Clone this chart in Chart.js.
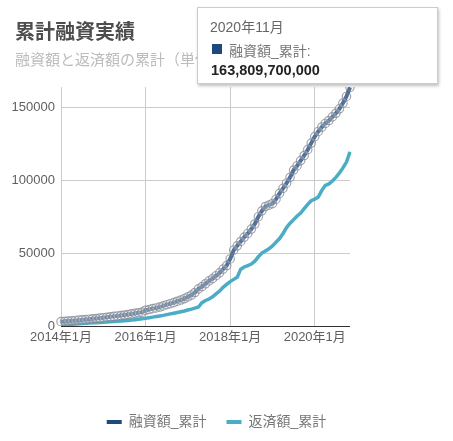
<!DOCTYPE html>
<html lang="ja">
<head>
    <meta charset="UTF-8">
    <title>累計融資実績</title>
    <script src="https://cdn.jsdelivr.net/npm/chart.js"></script>
    <style>
        body { margin: 0; background: #fff; font-family: "Liberation Sans", "Noto Sans CJK JP", sans-serif; }
        #wrap { position: relative; width: 453px; height: 441px; }
        #title { position: absolute; left: 15px; top: 16px; font-size: 20px; font-weight: bold; color: #4d4d4d; }
        #subtitle { position: absolute; left: 15px; top: 48px; font-size: 15px; color: #bcbcbc; white-space: nowrap; }
        #tip { position: absolute; left: 197px; top: 7px; width: 241px; height: 77px; background: #fff;
               border: 1px solid #cccccc; box-shadow: 1px 2px 3px rgba(0,0,0,0.25); box-sizing: border-box; }
        #tip .t { position: absolute; left: 12px; top: 8px; font-size: 14px; color: #666; }
        #tip .sw { position: absolute; left: 14px; top: 36px; width: 10px; height: 10px; background: #1f497d; }
        #tip .n { position: absolute; left: 31px; top: 32px; font-size: 14px; color: #777; }
        #tip .v { position: absolute; left: 13px; top: 54px; font-size: 14.5px; font-weight: bold; color: #222; }
    </style>
</head>
<body>
<div id="wrap">
    <canvas id="myChart" width="453" height="441"></canvas>
    <div id="title">累計融資実績</div>
    <div id="subtitle">融資額と返済額の累計（単位：百万円）</div>
    <div id="tip">
        <div class="t">2020年11月</div>
        <div class="sw"></div>
        <div class="n">融資額_累計:</div>
        <div class="v">163,809,700,000</div>
    </div>
</div>
<script>
    // 2014年1月 〜 2020年11月 (月次, 単位: 百万円)
    const months = [];
    for (let y = 2014; y <= 2020; y++) {
        for (let m = 1; m <= 12; m++) {
            if (y === 2020 && m > 11) break;
            months.push(y + '年' + m + '月');
        }
    }

    const loanTotal = [
        3000, 3200, 3400, 3600, 3800, 4000, 4200, 4400, 4650, 4900, 5150, 5400,
        5700, 6000, 6300, 6600, 6900, 7200, 7550, 7900, 8300, 8700, 9100, 9500,
        10800, 11300, 11900, 12400, 13000, 13800, 14600, 15300, 16100, 17000, 17800, 18800,
        20000, 21200, 23000, 25500, 27000, 29000, 31000, 32500, 34500, 36500, 39000, 41500,
        46000, 52000, 55000, 58000, 61000, 63500, 66500, 70000, 75000, 79000, 82000, 83000,
        84000, 87000, 91000, 94500, 98000, 102000, 107000, 110000, 113500, 117000, 121000, 125500,
        130000, 133500, 136500, 139000, 141000, 143500, 146000, 149000, 153000, 157500, 163809.7
    ];

    const repayTotal = [
        800, 950, 1100, 1250, 1400, 1550, 1700, 1850, 2000, 2150, 2300, 2450,
        2600, 2750, 2900, 3050, 3250, 3450, 3650, 3850, 4100, 4350, 4600, 4900,
        5300, 5700, 6100, 6500, 6900, 7300, 7800, 8300, 8800, 9300, 9800, 10300,
        11000, 11600, 12300, 13000, 16000, 17500, 18500, 20000, 22000, 24000, 26500, 28500,
        30500, 32000, 33500, 39000, 40500, 41500, 42500, 44500, 47500, 50000, 51500, 53000,
        55000, 57500, 60000, 63500, 67500, 70500, 73000, 75500, 77500, 80500, 83500, 86000,
        87000, 88500, 93000, 96500, 97500, 99500, 102000, 105000, 108500, 112500, 119500
    ];

    const yTicks = [0, 50000, 100000, 150000];
    const xTickIndex = [0, 24, 48, 72];

    const font = { family: '"Liberation Sans", "Noto Sans CJK JP", sans-serif', size: 13 };

    new Chart(document.getElementById('myChart'), {
        type: 'line',
        data: {
            labels: months,
            datasets: [{
                label: '融資額_累計',
                data: loanTotal,
                borderColor: '#1f497d',
                backgroundColor: '#1f497d',
                borderWidth: 4,
                pointRadius: 4.2,
                pointBorderWidth: 1.2,
                pointBackgroundColor: 'rgba(255,255,255,0.22)',
                pointBorderColor: 'rgba(130,135,145,0.75)',
                tension: 0
            }, {
                label: '返済額_累計',
                data: repayTotal,
                borderColor: '#4bacc6',
                backgroundColor: '#4bacc6',
                borderWidth: 3.5,
                pointRadius: 0,
                tension: 0
            }]
        },
        options: {
            responsive: false,
            animation: false,
            layout: { padding: { left: 0, right: 20, top: 87, bottom: 2 } },
            plugins: {
                tooltip: { enabled: false },
                legend: {
                    position: 'bottom',
                    labels: {
                        font: { family: font.family, size: 14 },
                        color: '#777',
                        boxWidth: 15,
                        boxHeight: 4,
                        padding: 20,
                        generateLabels: chart => chart.data.datasets.map((ds, i) => ({
                            text: ds.label,
                            fillStyle: ds.borderColor,
                            strokeStyle: ds.borderColor,
                            lineWidth: 0,
                            fontColor: '#777',
                            datasetIndex: i
                        }))
                    }
                }
            },
            scales: {
                x: {
                    offset: false,
                    afterBuildTicks: s => { s.ticks = s.ticks.filter(t => xTickIndex.includes(t.value)); },
                    afterFit: s => { s.height = 69; },
                    ticks: { autoSkip: false, maxRotation: 0, font: font, color: '#5f5f5f', padding: 4 },
                    grid: { color: '#cccccc', drawTicks: false },
                    border: { display: false }
                },
                y: {
                    min: 0,
                    max: 164000,
                    afterBuildTicks: s => { s.ticks = yTicks.map(v => ({ value: v })); },
                    afterFit: s => { s.width = 61; },
                    ticks: { font: font, color: '#5f5f5f', padding: 6, callback: v => String(v) },
                    grid: {
                        color: c => c.tick && c.tick.value === 0 ? '#333333' : '#cccccc',
                        drawTicks: false
                    },
                    border: { display: false }
                },
                y2: {
                    position: 'right',
                    afterFit: s => { s.width = 83; },
                    ticks: { display: false },
                    grid: { display: false },
                    border: { display: false }
                }
            }
        }
    });
</script>
</body>
</html>
